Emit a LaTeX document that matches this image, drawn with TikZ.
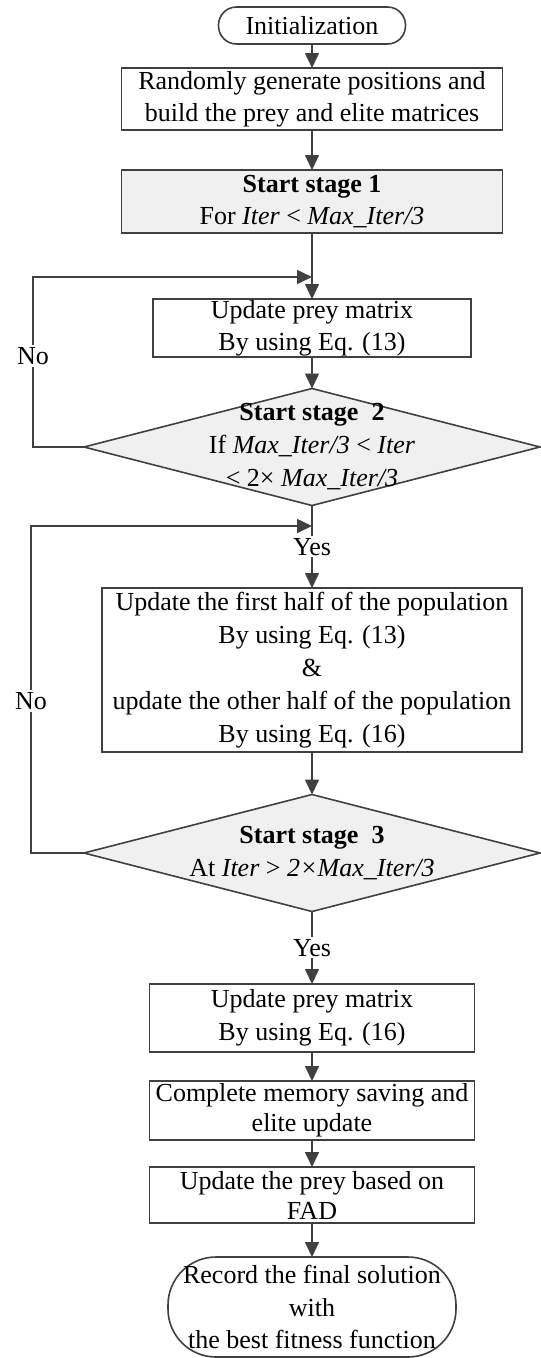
\documentclass[tikz,border=0pt]{standalone}
\usepackage{fontspec}
\setmainfont{Liberation Serif}
\usetikzlibrary{arrows.meta,shapes.geometric}
\definecolor{ln}{HTML}{404040}
\definecolor{gf}{HTML}{F0F0F0}
\begin{document}
\begin{tikzpicture}[x=1pt,y=-1pt,
  every node/.style={font=\fontsize{26}{32}\selectfont, text=black},
  box/.style={draw=ln, line width=1.6pt, rectangle, inner sep=0pt, outer sep=0pt, align=center},
  gbox/.style={box, fill=gf},
  dia/.style={draw=ln, line width=1.6pt, diamond, fill=gf, inner sep=0pt, outer sep=0pt, minimum width=456pt, minimum height=117pt},
  txt/.style={inner sep=0pt, align=center},
  lbl/.style={fill=white, inner sep=2pt},
  arr/.style={draw=ln, line width=1.6pt, -{Triangle[length=15pt,width=14pt]}},
  ln/.style={draw=ln, line width=1.6pt}
]
\useasboundingbox (0,0) rectangle (541,1358);

\node[box, rounded corners=18pt, minimum width=187pt, minimum height=37pt] (init) at (312,25.5) {Initialization};
\node[box, minimum width=381pt, minimum height=62pt] (rand) at (312,99) {Randomly generate positions and\\build the prey and elite matrices};
\node[gbox, minimum width=381pt, minimum height=63pt] (st1) at (312,201.5) {\textbf{Start stage 1}\\For \textit{Iter} < \textit{Max\_Iter/3}};
\node[box, minimum width=318pt, minimum height=58pt] (up1) at (312,328) {Update prey matrix\\By using Eq. (13)};
\node[dia] (d1) at (312,447) {};
\node[txt, font=\fontsize{26}{33}\selectfont] (d1t) at (312,447) {\textbf{Start stage\ \ 2}\\If \textit{Max\_Iter/3} < \textit{Iter}\\< 2× \textit{Max\_Iter/3}};
\node[box, minimum width=420pt, minimum height=164pt, font=\fontsize{26}{33}\selectfont] (big) at (312,670) {Update the first half of the population\\By using Eq. (13)\\\&\\update the other half of the population\\By using Eq. (16)};
\node[dia] (d2) at (312,853) {};
\node[txt, font=\fontsize{26}{33}\selectfont] (d2t) at (312,853) {\textbf{Start stage\ \ 3}\\At \textit{Iter} > \textit{2×Max\_Iter/3}};
\node[box, minimum width=325pt, minimum height=68pt, font=\fontsize{26}{33}\selectfont] (up3) at (312,1018) {Update prey matrix\\By using Eq. (16)};
\node[box, minimum width=325pt, minimum height=59pt, font=\fontsize{26}{30}\selectfont] (comp) at (312,1110.5) {Complete memory saving and\\elite update};
\node[box, minimum width=325pt, minimum height=56pt, font=\fontsize{26}{30}\selectfont] (fad) at (312,1195) {Update the prey based on\\FAD};
\node[box, rounded corners=48pt, minimum width=288pt, minimum height=100pt, font=\fontsize{26}{32.5}\selectfont] (fin) at (312,1307) {Record the final solution\\with\\the best fitness function};

\coordinate (m1) at (312,277);
\coordinate (c1) at (33,277);
\coordinate (m2) at (312,526);
\coordinate (c2) at (31,526);

\draw[arr] (init) -- (rand);
\draw[arr] (rand) -- (st1);
\draw[arr] (st1) -- (up1);
\draw[arr] (up1) -- (d1);
\draw[arr] (d1.west) -| (c1) -- (m1);
\draw[arr] (d1.south) -- (big.north) node[lbl, pos=0.5] (yes1) {Yes};
\draw[arr] (big) -- (d2);
\draw[arr] (d2.west) -| (c2) -- (m2);
\draw[arr] (d2.south) -- (up3.north) node[lbl, pos=0.5] (yes2) {Yes};
\draw[arr] (up3) -- (comp);
\draw[arr] (comp) -- (fad);
\draw[arr] (fad) -- (fin);
\node[lbl] (no1) at (33,356) {No};
\node[lbl] (no2) at (31,701) {No};
\end{tikzpicture}
\end{document}
